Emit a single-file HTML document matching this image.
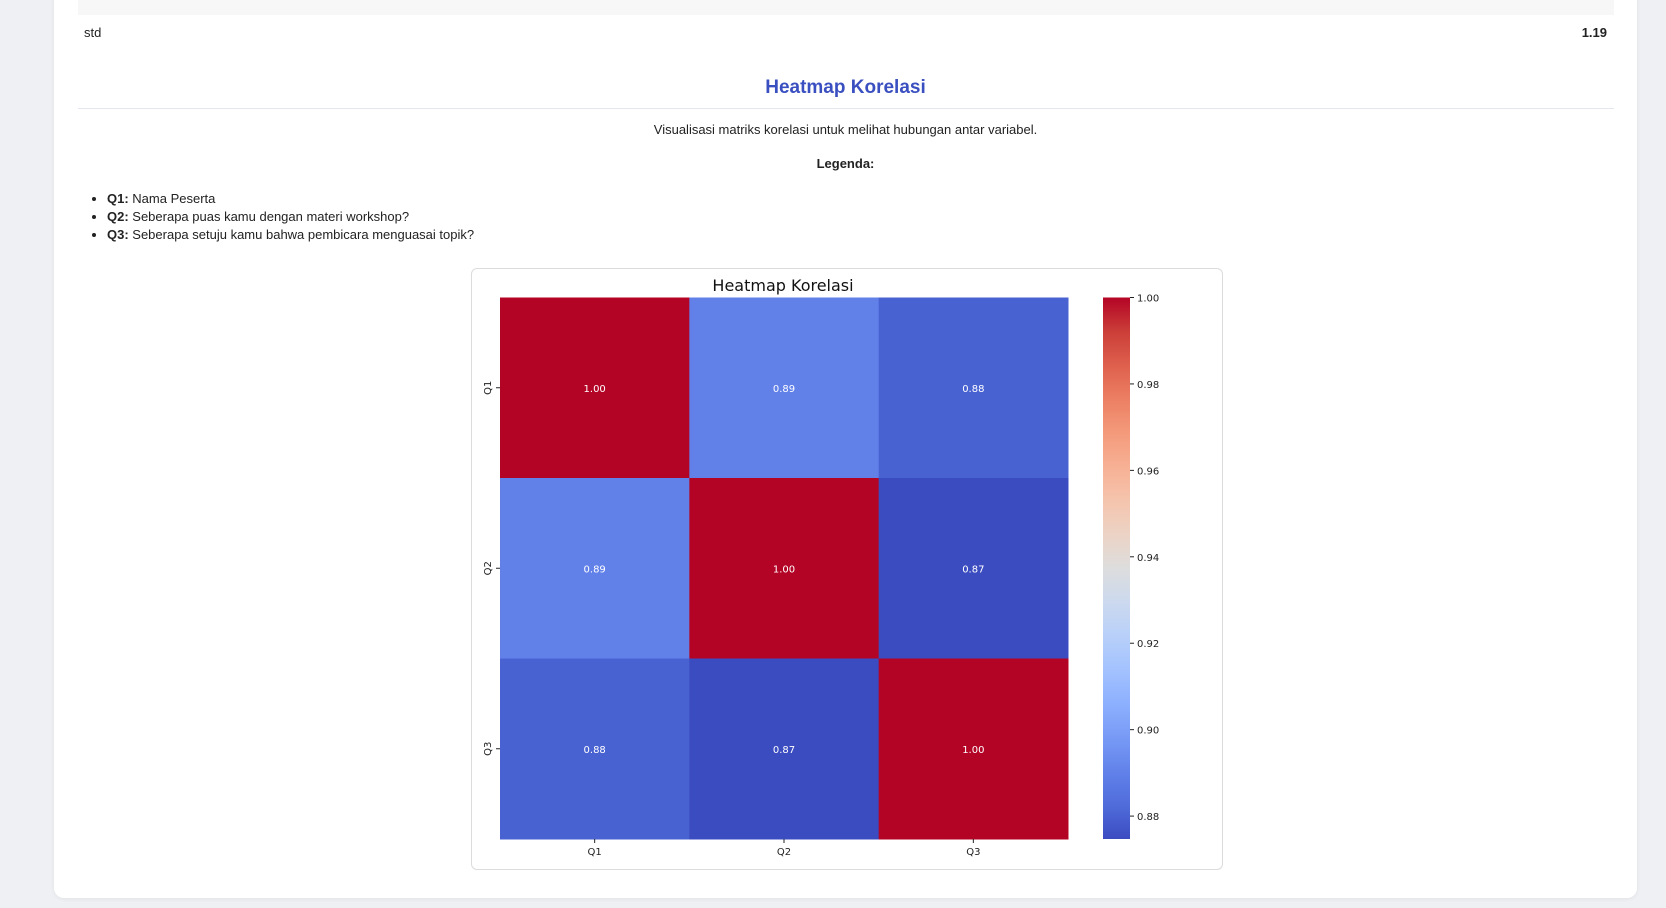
<!DOCTYPE html>
<html><head><meta charset="utf-8"><style>
body{margin:0;width:1666px;height:908px;background:#eef0f4;font-family:"Liberation Sans",sans-serif;position:relative;overflow:hidden;color:#222}
.abs{position:absolute}
</style></head><body>
<div class="abs" style="left:54px;top:-10px;width:1583px;height:908px;background:#fff;border-radius:10px;box-shadow:0 1px 4px rgba(0,0,0,0.06)"></div>
<div class="abs" style="left:78px;top:0;width:1536px;height:15px;background:#f7f7f8"></div>
<div class="abs" style="left:84px;top:25px;font-size:13px">std</div>
<div class="abs" style="left:1570px;width:37px;text-align:right;top:25px;font-size:13px;font-weight:bold">1.19</div>
<div class="abs" style="left:54px;width:1583px;text-align:center;top:77px;font-size:19px;font-weight:bold;color:#3a4fc0">Heatmap Korelasi</div>
<div class="abs" style="left:78px;top:108px;width:1536px;height:1px;background:#e4e6ef"></div>
<div class="abs" style="left:54px;width:1583px;text-align:center;top:122px;font-size:13px">Visualisasi matriks korelasi untuk melihat hubungan antar variabel.</div>
<div class="abs" style="left:54px;width:1583px;text-align:center;top:156px;font-size:13px;font-weight:bold">Legenda:</div>
<ul class="abs" style="left:66px;top:190px;margin:0;padding-left:41px;font-size:13px;line-height:18px">
<li><b>Q1:</b> Nama Peserta</li>
<li><b>Q2:</b> Seberapa puas kamu dengan materi workshop?</li>
<li><b>Q3:</b> Seberapa setuju kamu bahwa pembicara menguasai topik?</li>
</ul>
<div class="abs" style="left:471px;top:268px;width:750px;height:600px;border:1px solid #dcdcdc;border-radius:6px;background:#fff"></div>
<svg class="abs" id="chart" style="left:0;top:0" width="1666" height="908" font-family="'DejaVu Sans',sans-serif"></svg>
<script>
const categories=["Q1","Q2","Q3"];
const row1=[1.00,0.89,0.88];
const row2=[0.89,1.00,0.8747];
const row3=[0.88,0.8747,1.00];
const cbTicks=[0.88,0.90,0.92,0.94,0.96,0.98,1.00];
const vmin=0.8747, vmax=1.0;
const matrix=[row1,row2,row3];
const NS="http://www.w3.org/2000/svg";
const svg=document.getElementById('chart');
const X0=500,X1=1068,Y0=297.5,Y1=839;
const cw=(X1-X0)/categories.length, ch=(Y1-Y0)/categories.length;
const stops=[[59,76,192],[80,108,219],[98,130,234],[120,154,246],[141,176,254],[163,194,254],[184,208,249],[204,217,238],[221,221,221],[236,211,197],[245,196,173],[247,176,148],[244,154,123],[236,127,99],[222,96,77],[203,62,56],[180,4,38]];
const NSEG=stops.length-1;
function cmap(v){let t=(v-vmin)/(vmax-vmin);t=Math.max(0,Math.min(1,t))*NSEG;const i=Math.min(NSEG-1,Math.floor(t)),f=t-i;const a=stops[i],b=stops[i+1];return`rgb(${a.map((c,k)=>Math.round(c+(b[k]-c)*f)).join(',')})`;}
function mk(tag,attrs,text){const e=document.createElementNS(NS,tag);for(const k in attrs)e.setAttribute(k,attrs[k]);if(text!==undefined)e.textContent=text;svg.appendChild(e);return e;}
const xs=i=>X0+i*cw, ys=i=>Y0+i*ch;
let t=mk('text',{x:783,y:291,'text-anchor':'middle','font-size':16,fill:'#111'},'Heatmap Korelasi');


matrix.forEach((row,r)=>row.forEach((v,c)=>{
 const rc=mk('rect',{x:xs(c),y:ys(r),width:cw+0.5,height:ch+0.5,fill:cmap(v)});
 
 
 const tx=mk('text',{x:xs(c)+cw/2,y:ys(r)+ch/2+4,'text-anchor':'middle','font-size':10,fill:'#fff'},v.toFixed(2));
 
 
}));
categories.forEach((cat,i)=>{
 const cx=xs(i)+cw/2;
 mk('line',{x1:cx,x2:cx,y1:Y1,y2:Y1+4,stroke:'#222'});
 const lx=mk('text',{x:cx,y:Y1+16,'text-anchor':'middle','font-size':10,fill:'#222'},cat);
 
 
 const cy=ys(i)+ch/2;
 mk('line',{x1:X0-4,x2:X0,y1:cy,y2:cy,stroke:'#222'});
 const ly=mk('text',{x:491,y:cy,'text-anchor':'middle','font-size':10,fill:'#222',transform:`rotate(-90 491 ${cy})`},cat);
 
 
});
const CX=1103,CW=27;
const defs=mk('defs',{});
const g=document.createElementNS(NS,'linearGradient');g.setAttribute('id','cg');g.setAttribute('x1','0');g.setAttribute('y1','1');g.setAttribute('x2','0');g.setAttribute('y2','0');
stops.forEach((s,i)=>{const st=document.createElementNS(NS,'stop');st.setAttribute('offset',i/NSEG);st.setAttribute('stop-color',`rgb(${s.join(',')})`);g.appendChild(st);});
defs.appendChild(g);
const cb=mk('rect',{x:CX,y:Y0,width:CW,height:Y1-Y0,fill:'url(#cg)'});


const cys=v=>Y1-(v-vmin)/(vmax-vmin)*(Y1-Y0);
cbTicks.forEach(v=>{
 const y=cys(v);
 mk('line',{x1:CX+CW,x2:CX+CW+4,y1:y,y2:y,stroke:'#222'});
 const tl=mk('text',{x:CX+CW+7,y:y+4,'font-size':10,fill:'#222'},v.toFixed(2));
 
 
});
</script>
</body></html>
